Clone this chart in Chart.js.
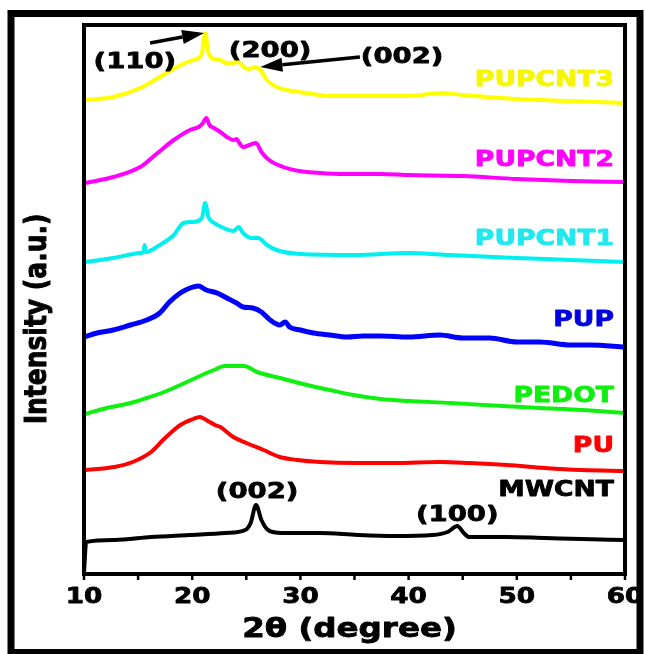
<!DOCTYPE html>
<html>
<head>
<meta charset="utf-8">
<script src="https://cdn.jsdelivr.net/npm/chart.js@4.4.1/dist/chart.umd.min.js"></script>
<style>
  html, body { margin: 0; padding: 0; background: #ffffff; }
  #wrap { width: 645px; height: 654px; }
</style>
</head>
<body>
<div id="wrap"><canvas id="c" width="645" height="654"></canvas></div>
<script>
// ---------------- data (2θ in degree, intensity in a.u., stacked offsets included) ----------------
const xTicks = [10, 20, 30, 40, 50, 60];

const mwcntX = [10.0,10.2,12.8,16.2,19.7,23.1,24.9,25.4,25.9,26.4,27.0,28.3,31.8,35.3,38.7,42.2,43.6,44.5,45.1,45.6,49.1,52.6,56.0,60];
const mwcntY = [1,32,34,37,39,41,44,51,69,54,44,41,41,39,38,39,42,48,41,37,37,36,35,34];

const puX = [10,12.8,14.5,16.2,17.3,18.0,18.9,20.1,20.7,21.3,22.1,22.6,23.8,25.0,26.6,28.1,29.7,31.8,35.3,38.7,42.9,45.6,49.1,52.6,56.0,60];
const puY = [104,107,112,122,134,141,149,155,157,154,149,147,137,131,124,117,114,112,111,111,112,111,109,106,104,103];

const pedotX = [10.1,12.1,14.3,15.8,17.4,18.9,20.5,22.0,23.0,24.8,26.0,28.1,30.6,32.7,34.9,37.4,40,43.9,47,52.1,56,60];
const pedotY = [160,166,171,176,182,189,197,204,208,208,202,196,189,184,179,175,173,171,169,166,164,161];

const pupX = [10,11.2,12.7,14.3,15.8,17.0,17.9,18.9,19.8,20.6,21.3,22.3,23.2,24.1,24.7,25.6,26.4,27.2,28.1,28.6,29.0,30.0,31.2,32.7,34.3,35.8,37.4,40,42.9,45,47.5,50,52.1,55,56.8,60];
const pupY = [237,241,244,249,254,261,272,281,286,288,284,281,276,271,267,266,262,254,249,252,247,244,241,239,237,238,238,237,239,236,236,232,232,229,229,227];

const pupcnt1X = [10.1,12.7,15.2,15.5,15.6,15.7,17.0,18.3,19.2,20.1,20.9,21.2,21.5,21.9,22.9,23.8,24.3,24.7,25.5,26.1,26.9,27.8,30,35,40,43.8,50,55,60];
const pupcnt1Y = [312,316,321,322,329,322,329,339,351,352,356,371,357,352,346,343,347,341,336,336,329,324,320,319,321,319,316,314,312];

const pupcnt2X = [10.1,12.7,15.2,16.8,18.3,19.8,20.6,21.0,21.3,21.6,22.0,22.6,23.2,23.8,24.1,24.3,24.7,25.3,25.9,26.4,27.1,28.4,29.9,31.8,34.2,37.4,40,45,50,55,60];
const pupcnt2Y = [391,397,407,421,434,444,447,451,456,449,446,442,437,434,435,432,427,429,431,422,414,407,403,401,400,400,399,398,395,393,392];

const pupcnt3X = [10.1,12.7,15.2,17.0,18.6,19.8,20.6,20.9,21.2,21.5,21.8,22.6,23.2,23.8,24.1,24.4,24.9,25.3,25.8,26.3,26.9,27.8,28.7,30.6,32.7,37.4,40,43,45,50,55,60];
const pupcnt3Y = [474,477,486,497,507,513,516,521,541,521,516,514,511,511,513,511,506,505,507,504,494,487,484,481,478,478,478,481,479,475,473,471];

const seriesNames = ['MWCNT','PU','PEDOT','PUP','PUPCNT1','PUPCNT2','PUPCNT3'];
// ---------------------------------------------------------------------------------------------

const seriesX = [mwcntX, puX, pedotX, pupX, pupcnt1X, pupcnt2X, pupcnt3X];
const seriesY = [mwcntY, puY, pedotY, pupY, pupcnt1Y, pupcnt2Y, pupcnt3Y];
const lineColors = ['#000000','#ff0000','#10f010','#0000ff','#00f0f0','#ff00ff','#ffff00'];
const textColors = ['#000000','#ff0000','#10ee10','#0000e0','#20e8ee','#ff00ff','#f6f600'];
const lineWidths = [4,4,4,5,4,4,4];
// label positions (intensity level of label baseline)
const labelLevel = [78, 122, 172, 248, 329, 408, 488];

const FONT = '"DejaVu Sans", sans-serif';

function sText(ctx, txt, x, y, size, align, color, stretch) {
  ctx.save();
  ctx.translate(x, y);
  ctx.scale(stretch, 1);
  ctx.font = 'bold ' + size + 'px ' + FONT;
  ctx.fillStyle = color;
  ctx.strokeStyle = color;
  ctx.lineWidth = 0.8;
  ctx.lineJoin = 'round';
  ctx.textAlign = align;
  ctx.textBaseline = 'alphabetic';
  ctx.fillText(txt, 0, 0);
  ctx.strokeText(txt, 0, 0);
  ctx.restore();
}

function arrow(ctx, x1, y1, x2, y2) {
  const ang = Math.atan2(y2 - y1, x2 - x1);
  const hl = 22, hw = 7;
  const bx = x2 - hl * Math.cos(ang), by = y2 - hl * Math.sin(ang);
  ctx.save();
  ctx.strokeStyle = '#000'; ctx.fillStyle = '#000';
  ctx.lineWidth = 3.5;
  ctx.beginPath(); ctx.moveTo(x1, y1); ctx.lineTo(bx, by); ctx.stroke();
  ctx.beginPath();
  ctx.moveTo(x2, y2);
  ctx.lineTo(bx + hw * Math.sin(ang), by - hw * Math.cos(ang));
  ctx.lineTo(bx - hw * Math.sin(ang), by + hw * Math.cos(ang));
  ctx.closePath(); ctx.fill();
  ctx.restore();
}

const decor = {
  id: 'decor',
  afterDraw(chart) {
    const ctx = chart.ctx;
    const ca = chart.chartArea;
    const xs = chart.scales.x, ys = chart.scales.y;

    // outer frame
    ctx.save();
    ctx.strokeStyle = '#000';
    ctx.lineWidth = 7;
    ctx.strokeRect(11, 13.5, 629, 639);
    // plot frame
    ctx.lineWidth = 4;
    ctx.strokeRect(ca.left, ca.top, ca.right - ca.left, ca.bottom - ca.top);
    // tick marks (outward, every 5 degrees)
    ctx.lineWidth = 2.5;
    xs.ticks.forEach(t => {
      const px = xs.getPixelForValue(t.value);
      ctx.beginPath(); ctx.moveTo(px, ca.bottom); ctx.lineTo(px, ca.bottom + 6); ctx.stroke();
    });
    ctx.restore();

    // tick labels
    xTicks.forEach(v => {
      sText(ctx, String(v), xs.getPixelForValue(v), 603, 21, 'center', '#000', 1.25);
    });
    // x title
    sText(ctx, '2\u03b8 (degree)', (ca.left + ca.right) / 2 - 5, 637, 26, 'center', '#000', 1.25);

    // y title (rotated)
    ctx.save();
    ctx.translate(38, 319);
    ctx.scale(1.22, 1);
    ctx.rotate(-Math.PI / 2);
    ctx.font = 'bold 25px ' + FONT;
    ctx.fillStyle = '#000';
    ctx.strokeStyle = '#000';
    ctx.lineWidth = 0.8;
    ctx.textAlign = 'center';
    ctx.textBaseline = 'middle';
    ctx.fillText('Intensity (a.u.)', 0, 0);
    ctx.strokeText('Intensity (a.u.)', 0, 0);
    ctx.restore();

    // series labels
    seriesNames.forEach((n, i) => {
      sText(ctx, n, ca.right - 11, ys.getPixelForValue(labelLevel[i]), 22, 'right', textColors[i], 1.21);
    });

    // peak annotations
    sText(ctx, '(002)', xs.getPixelForValue(26.0), ys.getPixelForValue(76), 22, 'center', '#000', 1.25);
    sText(ctx, '(100)', xs.getPixelForValue(44.5), ys.getPixelForValue(53), 22, 'center', '#000', 1.25);
    sText(ctx, '(110)', xs.getPixelForValue(14.7), ys.getPixelForValue(506), 22, 'center', '#000', 1.25);
    sText(ctx, '(200)', xs.getPixelForValue(27.2), ys.getPixelForValue(517), 22, 'center', '#000', 1.25);
    sText(ctx, '(002)', xs.getPixelForValue(39.4), ys.getPixelForValue(511), 22, 'center', '#000', 1.25);

    arrow(ctx, xs.getPixelForValue(16.1), ys.getPixelForValue(531), xs.getPixelForValue(21.1), ys.getPixelForValue(541));
    arrow(ctx, xs.getPixelForValue(35.5), ys.getPixelForValue(517), xs.getPixelForValue(26.3), ys.getPixelForValue(507));
  }
};

const datasets = seriesNames.map((n, i) => ({
  label: n,
  data: seriesX[i].map((x, k) => ({ x: x, y: seriesY[i][k] })),
  borderColor: lineColors[i],
  borderWidth: lineWidths[i],
  pointRadius: 0,
  fill: false,
  cubicInterpolationMode: 'monotone',
  borderJoinStyle: 'round',
  borderCapStyle: 'round'
}));

new Chart(document.getElementById('c'), {
  type: 'line',
  data: { datasets: datasets },
  options: {
    responsive: false,
    animation: false,
    events: [],
    layout: { padding: { left: 0, right: 20, top: 25, bottom: 0 } },
    plugins: { legend: { display: false }, tooltip: { enabled: false } },
    scales: {
      x: {
        type: 'linear', min: 10, max: 60,
        ticks: { display: false, stepSize: 5 },
        grid: { display: false },
        border: { display: false },
        afterFit(s) { s.height = 80; }
      },
      y: {
        min: 0, max: 549,
        ticks: { display: false },
        grid: { display: false },
        border: { display: false },
        afterFit(s) { s.width = 84; }
      }
    }
  },
  plugins: [decor]
});
</script>
</body>
</html>
